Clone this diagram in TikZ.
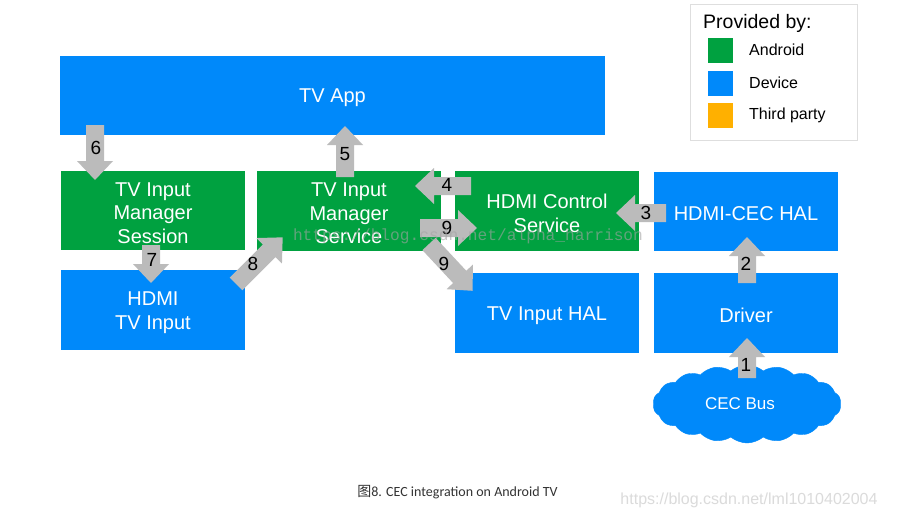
\documentclass[tikz,border=0pt]{standalone}
\usepackage{fontspec}
\setmainfont{Liberation Sans}
\newfontfamily\capfont{Carlito}
\newfontfamily\cjkfont{Noto Sans CJK SC}
\newfontfamily\wmmono{Liberation Mono}
\usetikzlibrary{shapes.symbols}
\definecolor{devblue}{RGB}{0,137,250}
\definecolor{andgreen}{RGB}{0,161,64}
\definecolor{thirdorange}{RGB}{255,176,0}
\definecolor{arrowgray}{RGB}{187,187,187}
\definecolor{legframe}{RGB}{222,222,222}
\definecolor{wmgray}{RGB}{164,164,164}
\newcommand\garrow[4]{\begin{scope}[shift={(#1,#2)},rotate=#3]\fill[arrowgray] (0,-9) -- ({#4-19},-9) -- ({#4-19},-18) -- (#4,0) -- ({#4-19},18) -- ({#4-19},9) -- (0,9) -- cycle;\end{scope}}
\tikzset{
  box/.style={inner sep=0pt, minimum height=80pt, minimum width=184pt},
  boxlabel/.style={inner sep=0pt, yshift=-2.5pt, text=white, align=center, font=\fontsize{20}{23.5}\selectfont},
  bluebox/.style={box, fill=devblue},
  greenbox/.style={box, fill=andgreen},
  num/.style={inner sep=0pt, text=black, font=\fontsize{19}{19}\selectfont},
  legtext/.style={inner sep=0pt, anchor=west, text=black, font=\fontsize{16}{16}\selectfont},
  swatch/.style={inner sep=0pt, minimum width=25pt, minimum height=25pt, anchor=north west}
}
\begin{document}
\begin{tikzpicture}[x=1pt,y=-1pt]
\useasboundingbox (0,0) rectangle (899,519);
\fill[white] (0,0) rectangle (899,519);
% boxes
\node[bluebox, minimum width=545pt, minimum height=79pt, label={[boxlabel]center:TV App}] (app) at (332.5,95.5) {};
\node[greenbox, minimum height=79pt, label={[boxlabel]center:{TV Input\\Manager\\Session}}] (sess) at (153,210.5) {};
\node[greenbox, label={[boxlabel]center:{TV Input\\Manager\\Service}}] (serv) at (349,211) {};
\node[greenbox, label={[boxlabel]center:{HDMI Control\\Service}}] (hcs) at (547,211) {};
\node[bluebox, minimum height=79pt, label={[boxlabel]center:HDMI-CEC HAL}] (cechal) at (746,211.5) {};
\node[bluebox, label={[boxlabel]center:{HDMI\\TV Input}}] (hdmitv) at (153,310) {};
\node[bluebox, label={[boxlabel]center:TV Input HAL}] (tvhal) at (547,313) {};
\node[bluebox, label={[boxlabel]center:Driver}] (driver) at (746,313) {};
\node[cloud, cloud puffs=18, cloud puff arc=80, aspect=2.5, fill=devblue, draw=devblue, minimum width=188pt, minimum height=78pt, inner sep=0pt, label={[inner sep=0pt, xshift=-7pt, text=white, font=\fontsize{17}{17}\selectfont]center:CEC Bus}] (bus) at (747,404) {};
% block arrows
\garrow{95}{125}{-90}{55}
\garrow{151}{245}{-90}{38}
\garrow{345}{177}{90}{51}
\garrow{471}{186}{180}{56}
\garrow{420}{228}{0}{57}
\garrow{429}{244}{-47}{64}
\garrow{236}{284}{45}{66}
\garrow{666}{213}{180}{50}
\garrow{747}{283}{90}{46}
\garrow{747}{378}{90}{40}
% arrow labels
\node[num] (n6) at (96,148) {6};
\node[num] (n7) at (152,260) {7};
\node[num] (n5) at (345,154) {5};
\node[num] (n4) at (447,185) {4};
\node[num] (n9a) at (447,228) {9};
\node[num] (n9b) at (444,264) {9};
\node[num] (n8) at (253,264) {8};
\node[num] (n3) at (646,213) {3};
\node[num] (n2) at (746,264) {2};
\node[num] (n1) at (746,365) {1};
% legend
\draw[legframe, line width=1pt] (690,5) rectangle (857,140);
\node[inner sep=0pt, anchor=west, font=\fontsize{19.5}{19.5}\selectfont] (legt) at (703,23) {Provided by:};
\node[swatch, fill=andgreen] (sw1) at (708,38) {};
\node[swatch, fill=devblue] (sw2) at (708,71) {};
\node[swatch, fill=thirdorange] (sw3) at (708,103) {};
\node[legtext] (l1) at (749,50) {Android};
\node[legtext] (l2) at (749,83) {Device};
\node[legtext] (l3) at (749,115) {Third party};
% watermarks
\node[inner sep=0pt, text=wmgray, text opacity=0.6, font=\wmmono\fontsize{16.2}{16}\selectfont] (wm1) at (468,236) {https://blog.csdn.net/alpha\_harrison};
\node[inner sep=0pt, text=black!14, font=\fontsize{16}{16}\selectfont] (wm2) at (749,500) {https://blog.csdn.net/lml1010402004};
% caption
\node[inner sep=0pt, text=black!80, font=\capfont\fontsize{14}{14}\selectfont] (cap) at (457.5,492) {{\cjkfont 图}8. CEC integration on Android TV};
\end{tikzpicture}
\end{document}
